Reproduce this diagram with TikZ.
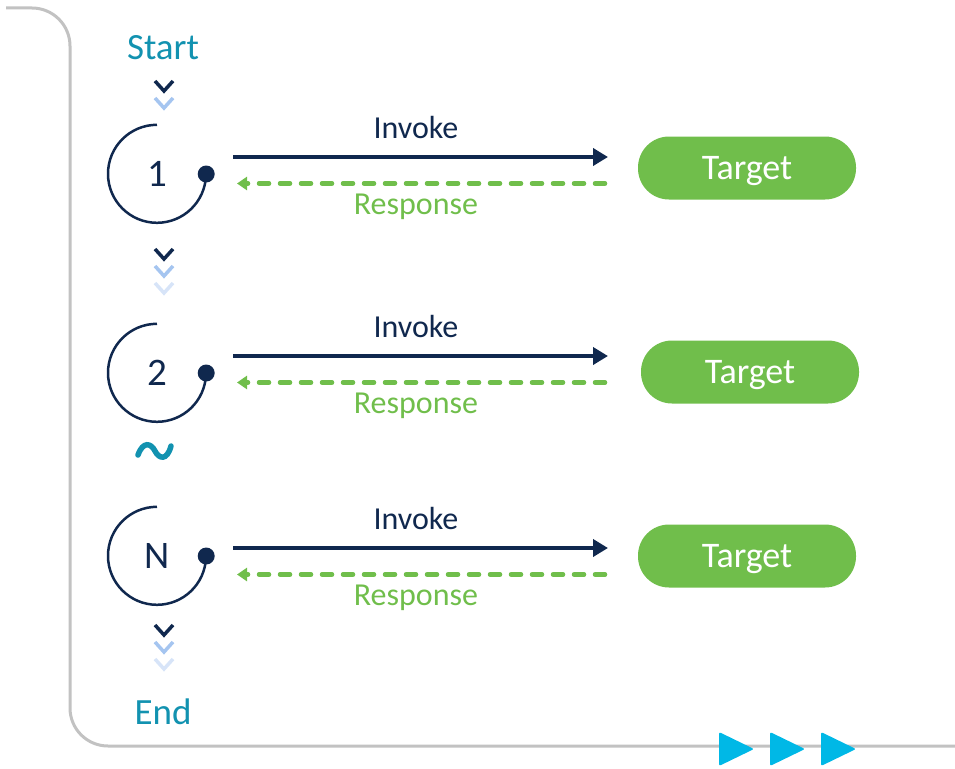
\documentclass[tikz,border=0pt]{standalone}
\usepackage{fontspec}
\setmainfont{Carlito}
\usetikzlibrary{arrows.meta}

\definecolor{navy}{RGB}{16,40,78}
\definecolor{leaf}{RGB}{112,190,75}
\definecolor{teal}{RGB}{18,146,176}
\definecolor{sky}{RGB}{0,184,230}
\definecolor{framegray}{RGB}{194,194,194}
\definecolor{chevmid}{RGB}{165,197,240}
\definecolor{chevlow}{RGB}{215,228,248}

\tikzset{
	frame/.style={framegray, line width=3pt},
	endtext/.style={teal, inner sep=0pt, font=\fontsize{37}{37}\selectfont},
	numcirc/.style={circle, minimum size=98pt, inner sep=0pt, navy, font=\fontsize{39}{39}\selectfont},
	chev/.style={line width=3.5pt, line join=miter},
	invoke/.style={navy, line width=4pt, -{Triangle[length=15pt,width=17pt]}},
	response/.style={leaf, line width=4.5pt, line cap=round, dash pattern=on 10pt off 11pt, -{Triangle[length=10pt,width=13pt]}},
	lbl/.style={inner sep=0pt, font=\fontsize{32}{32}\selectfont},
	target/.style={fill=leaf, rounded corners=31pt, minimum width=218pt, minimum height=63pt, text height=23pt, text depth=0pt, text=white, font=\fontsize{36}{36}\selectfont}
}

\begin{document}
	\begin{tikzpicture}[x=1pt,y=-1pt]
		\useasboundingbox (0,0) rectangle (955,768);
		\draw[frame, rounded corners=38pt] (6,8) -- (70,8) -- (70,746) -- (955,746);

		\foreach \tx in {719,770,821}
			\fill[sky, rounded corners=2pt] (\tx,732) -- (\tx+35,749) -- (\tx,766) -- cycle;

		\node[endtext] (start) at (163,48) {Start};
		\node[endtext] (end) at (163,712) {End};

		\foreach \cy/\col in {81/navy,98/chevmid,249/navy,266/chevmid,283/chevlow,625/navy,642/chevmid,659/chevlow}
			\draw[chev,\col] (155,\cy) -- (164,\cy+10) -- (173,\cy);

		\draw[teal, line width=5.5pt, line cap=round] (138,455) .. controls (143,441) and (151,443) .. (155,451) .. controls (159,459) and (167,461) .. (171,446);

		\foreach \n/\cy/\ay/\ty/\tx in {1/174/157/168/747,2/373/356/372/750,N/556/548/556/747}{
			\node[numcirc] (c\n) at (157,\cy) {\n};
			\draw[navy, line width=2.5pt] (c\n.north) arc[start angle=90, end angle=358, radius=49pt];
			\fill[navy] (c\n.east) circle (8.5pt);

			\node[target] (t\n) at (\tx,\ty) {Target};

			\coordinate (is\n) at (233,\ay);
			\coordinate (ie\n) at (608,\ay);
			\coordinate (rs\n) at (605,\ay+26.5);
			\coordinate (re\n) at (237,\ay+26.5);
			\draw[invoke] (is\n) -- (ie\n);
			\draw[response] (rs\n) -- (re\n);
			\node[lbl, navy] (inv\n) at (416,\ay-30) {Invoke};
			\node[lbl, leaf] (res\n) at (416,\ay+50) {Response};
		}
	\end{tikzpicture}
\end{document}
